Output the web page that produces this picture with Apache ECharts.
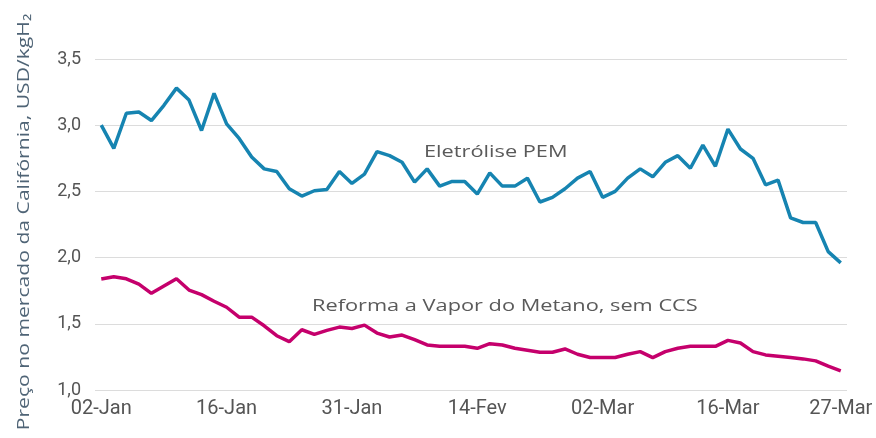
<!DOCTYPE html>
<html>
<head>
<meta charset="utf-8">
<script src="https://cdn.jsdelivr.net/npm/echarts@6/dist/echarts.min.js"></script>
<style>
  html, body { margin: 0; padding: 0; background: #fff; }
  #chart { width: 876px; height: 438px; }
</style>
</head>
<body>
<div id="chart"></div>
<script>
// tick labels on the x axis and where they sit (point index)
const tickIndex = [0, 10, 20, 30, 40, 50, 59];
const tickLabels = ['02-Jan', '16-Jan', '31-Jan', '14-Fev', '02-Mar', '16-Mar', '27-Mar'];

// Eletrólise PEM, USD/kgH2
const pemValues = [
  3.00, 2.825, 3.09, 3.10, 3.035, 3.15, 3.28, 3.19, 2.96, 3.24,
  3.01, 2.90, 2.76, 2.67, 2.65, 2.52, 2.465, 2.505, 2.515, 2.65,
  2.56, 2.63, 2.80, 2.77, 2.72, 2.57, 2.67, 2.54, 2.575, 2.575,
  2.48, 2.64, 2.54, 2.54, 2.60, 2.42, 2.455, 2.52, 2.60, 2.65,
  2.455, 2.50, 2.60, 2.67, 2.61, 2.72, 2.77, 2.675, 2.85, 2.69,
  2.97, 2.82, 2.75, 2.55, 2.585, 2.30, 2.265, 2.265, 2.045, 1.96
];

// Reforma a Vapor do Metano, sem CCS
const smrValues = [
  1.838, 1.856, 1.84, 1.80, 1.73, 1.785, 1.84, 1.755, 1.72, 1.67,
  1.625, 1.55, 1.55, 1.485, 1.41, 1.365, 1.455, 1.42, 1.45, 1.475,
  1.465, 1.49, 1.43, 1.40, 1.415, 1.38, 1.34, 1.33, 1.33, 1.33,
  1.315, 1.35, 1.34, 1.315, 1.30, 1.285, 1.285, 1.31, 1.27, 1.245,
  1.245, 1.245, 1.27, 1.29, 1.245, 1.29, 1.315, 1.33, 1.33, 1.33,
  1.375, 1.355, 1.29, 1.265, 1.255, 1.245, 1.235, 1.22, 1.18, 1.145
];

const yTitle = 'Preço no mercado da Califórnia, USD/kgH₂';

// categories: one per point, only the ticked ones carry a label
const categories = pemValues.map((_, i) => {
  const k = tickIndex.indexOf(i);
  return k >= 0 ? tickLabels[k] : '';
});

const chart = echarts.init(document.getElementById('chart'));

chart.setOption({
  animation: false,
  grid: { left: 95, right: 29, top: 59, bottom: 48, containLabel: false },
  xAxis: {
    type: 'category',
    data: categories,
    boundaryGap: true,
    axisLine: { show: false },
    axisTick: { show: false },
    axisLabel: {
      interval: 0,
      margin: 9,
      color: '#555',
      fontFamily: 'Roboto, sans-serif',
      fontSize: 20
    }
  },
  yAxis: {
    type: 'value',
    min: 1,
    max: 3.5,
    interval: 0.5,
    axisLine: { show: false },
    axisTick: { show: false },
    axisLabel: {
      margin: 14,
      color: '#555',
      fontFamily: 'Roboto, sans-serif',
      fontSize: 18,
      formatter: v => v.toFixed(1).replace('.', ',')
    },
    splitLine: { lineStyle: { color: '#dcdcdc', width: 1 } }
  },
  series: [
    {
      name: 'Eletrólise PEM',
      type: 'line',
      data: pemValues,
      symbol: 'none',
      lineStyle: { color: '#1684b1', width: 3.5 },
      itemStyle: { color: '#1684b1' }
    },
    {
      name: 'Reforma a Vapor do Metano, sem CCS',
      type: 'line',
      data: smrValues,
      symbol: 'none',
      lineStyle: { color: '#c5006c', width: 3.5 },
      itemStyle: { color: '#c5006c' }
    }
  ],
  graphic: [
    {
      type: 'text',
      x: 24,
      y: 222,
      rotation: Math.PI / 2,
      scaleX: 1.32,
      style: {
        text: yTitle,
        fill: '#4f6476',
        font: '16px "Open Sans", sans-serif',
        textAlign: 'center',
        textVerticalAlign: 'middle'
      }
    },
    {
      type: 'text',
      x: 424,
      y: 144,
      scaleX: 1.28,
      style: {
        text: 'Eletrólise PEM',
        fill: '#5a5a5a',
        font: '17px "Open Sans", sans-serif',
        textVerticalAlign: 'top'
      }
    },
    {
      type: 'text',
      x: 312,
      y: 298,
      scaleX: 1.28,
      style: {
        text: 'Reforma a Vapor do Metano, sem CCS',
        fill: '#5a5a5a',
        font: '17px "Open Sans", sans-serif',
        textVerticalAlign: 'top'
      }
    }
  ]
});
</script>
</body>
</html>
